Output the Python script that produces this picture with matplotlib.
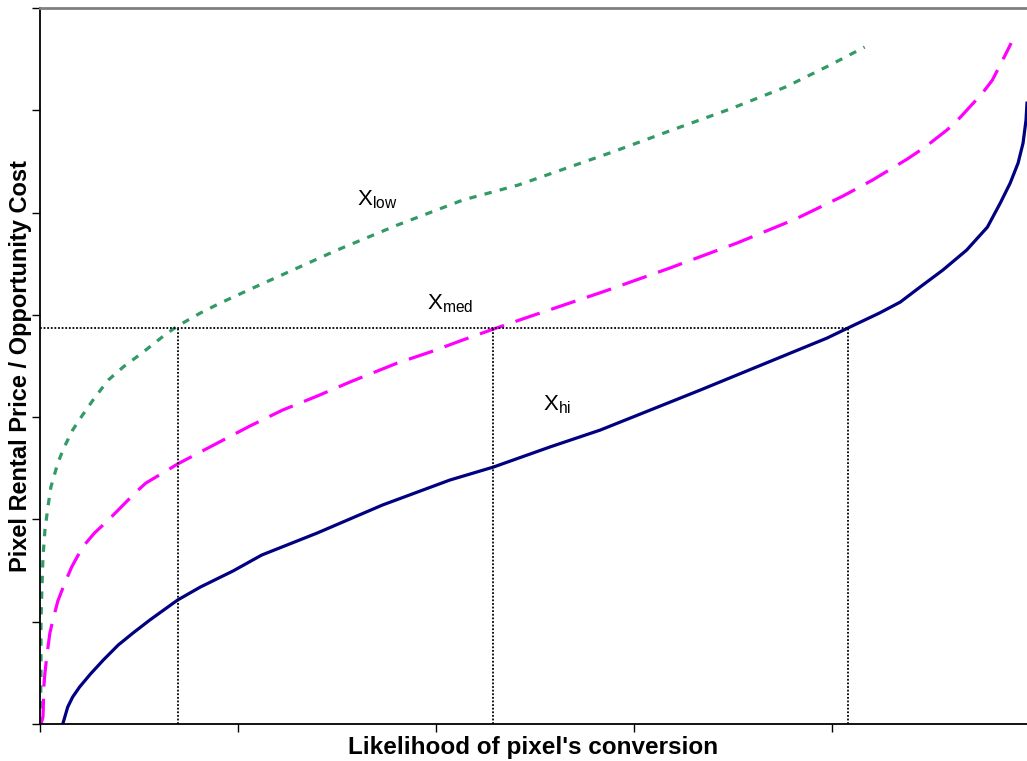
import matplotlib
matplotlib.use("Agg")
import matplotlib.pyplot as plt

plt.rcParams["font.family"] = ["Liberation Sans", "DejaVu Sans"]
plt.rcParams["mathtext.fontset"] = "custom"
plt.rcParams["mathtext.rm"] = "Liberation Sans"
plt.rcParams["mathtext.it"] = "Liberation Sans"

# curves (x: likelihood 0..1, y: price units 0..7)
x_hi = [0.023, 0.028, 0.033, 0.040, 0.051, 0.064, 0.079, 0.094, 0.111, 0.139,
        0.162, 0.195, 0.224, 0.280, 0.346, 0.414, 0.458, 0.515, 0.566, 0.667,
        0.795, 0.816, 0.848, 0.869, 0.889, 0.912, 0.936, 0.957, 0.970, 0.980,
        0.988, 0.993, 0.996, 0.997]
y_hi = [0.0, 0.166, 0.264, 0.362, 0.489, 0.626, 0.772, 0.890, 1.017, 1.212,
        1.339, 1.496, 1.652, 1.867, 2.141, 2.385, 2.512, 2.708, 2.874, 3.265,
        3.773, 3.871, 4.018, 4.125, 4.272, 4.438, 4.633, 4.858, 5.093, 5.288,
        5.484, 5.679, 5.904, 6.070]

x_med = [0.001, 0.003, 0.004, 0.005, 0.007, 0.010, 0.013, 0.018, 0.025, 0.032,
         0.043, 0.055, 0.069, 0.084, 0.097, 0.107, 0.124, 0.139, 0.162, 0.212,
         0.245, 0.280, 0.313, 0.361, 0.394, 0.427, 0.458, 0.493, 0.571, 0.636,
         0.704, 0.763, 0.811, 0.841, 0.876, 0.894, 0.916, 0.927, 0.952, 0.962,
         0.975, 0.981]
y_med = [0.0, 0.068, 0.381, 0.499, 0.674, 0.890, 1.017, 1.202, 1.378, 1.535,
         1.730, 1.867, 1.994, 2.141, 2.268, 2.356, 2.454, 2.542, 2.659, 2.913,
         3.069, 3.206, 3.343, 3.529, 3.636, 3.754, 3.861, 3.978, 4.233, 4.457,
         4.702, 4.936, 5.161, 5.318, 5.523, 5.640, 5.806, 5.904, 6.168, 6.295,
         6.540, 6.657]

x_low = [0.000, 0.001, 0.001, 0.002, 0.003, 0.005, 0.008, 0.011, 0.018, 0.024,
         0.033, 0.043, 0.055, 0.069, 0.084, 0.103, 0.126, 0.139, 0.162, 0.182,
         0.215, 0.300, 0.361, 0.427, 0.483, 0.578, 0.641, 0.697, 0.753, 0.796,
         0.833]
y_low = [0.0, 0.430, 1.017, 1.339, 1.632, 1.896, 2.121, 2.317, 2.551, 2.698,
         2.874, 3.021, 3.187, 3.363, 3.490, 3.627, 3.803, 3.891, 4.018, 4.115,
         4.262, 4.633, 4.878, 5.122, 5.269, 5.591, 5.816, 6.012, 6.227, 6.432,
         6.618]

price_level = 3.87
crossings = [0.139, 0.458, 0.816]

fig = plt.figure(figsize=(10.27, 7.61), dpi=100)
ax = fig.add_axes([40 / 1027, 37 / 761, 987 / 1027, 716 / 761])

ax.plot(x_low, y_low, color="#339966", lw=2.3, ls=(0, (2.3, 2.6)),
        dash_capstyle="butt")
ax.plot(x_med, y_med, color="#FF00FF", lw=2.3, ls=(0, (8.0, 3.8)),
        dash_capstyle="butt")
ax.plot(x_hi, y_hi, color="#000080", lw=2.3, solid_joinstyle="round")

# dotted guide lines
ax.plot([0, crossings[-1]], [price_level, price_level], color="black",
        lw=1.3, ls=(0, (1, 1)))
for xc in crossings:
    ax.plot([xc, xc], [0, price_level], color="black", lw=1.3, ls=(0, (1, 1)))

ax.text(0.320, 5.07, r"X$_{\mathrm{low}}$", fontsize=16)
ax.text(0.391, 4.05, r"X$_{\mathrm{med}}$", fontsize=16)
ax.text(0.508, 3.07, r"X$_{\mathrm{hi}}$", fontsize=16)

ax.set_xlim(0, 0.997)
ax.set_ylim(0, 7)
ax.set_xticks([0, 0.2, 0.4, 0.6, 0.8])
ax.set_yticks(range(0, 8))
ax.set_xticklabels([])
ax.set_yticklabels([])
ax.tick_params(direction="out", length=6, width=1, color="black")

ax.spines["right"].set_visible(False)
ax.spines["top"].set_color("#808080")
ax.spines["top"].set_linewidth(2)
ax.spines["left"].set_linewidth(1.3)
ax.spines["bottom"].set_linewidth(1.3)

ax.set_xlabel("Likelihood of pixel's conversion", fontsize=17.5,
              fontweight="bold", labelpad=-1)
ax.set_ylabel("Pixel Rental Price / Opportunity Cost", fontsize=17,
              fontweight="bold", labelpad=-4)

fig.savefig("out.png", dpi=100)
